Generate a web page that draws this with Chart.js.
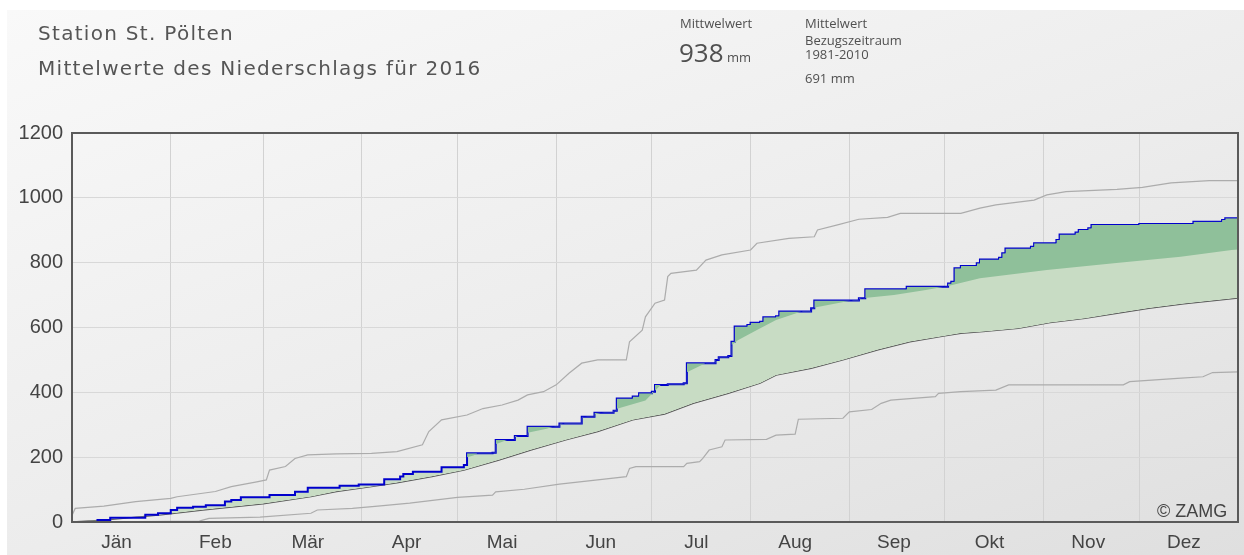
<!DOCTYPE html>
<html>
<head>
<meta charset="utf-8">
<script src="https://cdn.jsdelivr.net/npm/chart.js@4/dist/chart.umd.min.js"></script>
<style>
body { margin: 0; background: #fff; width: 1244px; height: 555px; overflow: hidden; position: relative; }
#panel { position: absolute; left: 7px; top: 10px; width: 1237px; height: 545px;
  background: linear-gradient(160deg, #f9f9f9 0%, #ececec 55%, #dfdfdf 100%); }
#chart { position: absolute; left: 0; top: 0; }
.t { position: absolute; color: #505050; font-family: "Open Sans", sans-serif; white-space: nowrap; line-height: 1; }
.titel { font-family: "DejaVu Sans", sans-serif; font-size: 20px; color: #555; letter-spacing: 1.3px; }
</style>
</head>
<body>
<div id="panel"></div>
<canvas id="chart" width="1244" height="555"></canvas>

<div class="t titel" style="left:38px; top:23px;">Station St. Pölten</div>
<div class="t titel" style="left:38px; top:58px;">Mittelwerte des Niederschlags für 2016</div>

<div class="t" style="left:680px; top:17px; font-size:13px;">Mittwelwert</div>
<div class="t" style="left:679px; top:39px; font-size:26px;">938<span style="font-size:13px;"> mm</span></div>
<div class="t" style="left:805px; top:17px; font-size:13px;">Mittelwert</div>
<div class="t" style="left:805px; top:34px; font-size:13px;">Bezugszeitraum</div>
<div class="t" style="left:805px; top:48px; font-size:13px;">1981-2010</div>
<div class="t" style="left:805px; top:72px; font-size:13px;">691 mm</div>

<div class="t" style="left:1157px; top:502px; font-size:18px; font-family:'Liberation Sans', Arial, sans-serif; color:#444;">© ZAMG</div>

<script>
// Monate (Schaltjahr 2016)
var monate = ["Jän", "Feb", "Mär", "Apr", "Mai", "Jun", "Jul", "Aug", "Sep", "Okt", "Nov", "Dez"];
var monatsTage = [31, 29, 31, 30, 31, 30, 31, 31, 30, 31, 30, 31];
var yTicks = [0, 200, 400, 600, 800, 1000, 1200];

// Summe 2016 [Tag, mm]
var summe2016 = [
    [0, 0], [8, 6], [12, 13], [23, 22], [27, 27], [31, 37], [33, 44], [38, 47], [42, 52],
    [48, 63], [50, 68], [53, 76], [62, 83], [70, 93], [74, 106], [84, 112], [90, 116],
    [98, 132], [103, 140], [104, 148], [107, 155], [116, 169], [123, 176], [124, 212],
    [132, 214], [133, 253], [139, 265], [143, 294], [153, 304], [160, 325], [164, 337],
    [170, 343], [171, 381], [176, 387], [178, 397], [182, 402], [183, 423], [187, 425],
    [192, 428], [193, 490], [202, 500], [203, 508], [206, 512], [207, 556], [208, 603],
    [212, 608], [213, 615], [216, 618], [217, 632], [221, 635], [222, 649], [232, 659],
    [233, 683], [247, 690], [249, 718], [262, 726], [275, 736], [276, 741], [277, 783],
    [279, 790], [284, 798], [285, 810], [291, 815], [292, 829], [293, 844], [301, 849],
    [302, 860], [309, 870], [310, 887], [315, 893], [316, 901], [319, 906], [320, 916],
    [335, 919], [352, 926], [361, 932], [362, 937], [366, 938]
];

// Mittel 1981-2010
var mittel = [
    [0, 0], [10, 6], [28, 22], [41, 37], [60, 56], [75, 78], [83, 94], [94, 109], [102, 121],
    [113, 140], [123, 160], [134, 191], [144, 222], [155, 253], [165, 279], [176, 315],
    [186, 333], [195, 366], [206, 397], [216, 428], [221, 453], [232, 474], [242, 500],
    [253, 531], [263, 556], [274, 574], [279, 582], [286, 587], [297, 597], [307, 615],
    [318, 628], [328, 644], [338, 659], [349, 673], [366, 691]
];

// oberer Rand des Normalbereichs
var normalOben = [
    [124, 200], [126, 205], [133, 240], [139, 262], [143, 275], [149, 288], [153, 300],
    [160, 322], [170, 346], [180, 375], [186, 435], [193, 462], [200, 495], [205, 530],
    [209, 561], [215, 592], [221, 623], [232, 659], [243, 680], [248, 690], [258, 700],
    [268, 716], [275, 728], [285, 752], [306, 777], [327, 798], [348, 818], [364, 839], [366, 841]
];

// Maximum
var maximum = [
    [0, 20], [1, 42], [10, 49], [20, 63], [31, 73], [33, 78], [45, 94], [50, 109], [58, 124],
    [61, 130], [62, 160], [67, 171], [70, 196], [74, 207], [83, 210], [94, 212], [102, 217],
    [110, 238], [112, 279], [116, 315], [124, 330], [129, 350], [135, 361], [140, 376],
    [143, 392], [148, 402], [152, 423], [156, 459], [160, 490], [165, 500], [174, 500],
    [175, 556], [179, 592], [180, 633], [183, 675], [186, 685], [187, 757], [188, 767],
    [196, 777], [199, 808], [204, 824], [213, 839], [215, 860], [225, 875], [233, 880],
    [234, 901], [240, 916], [247, 934], [256, 940], [260, 952], [279, 952], [285, 968],
    [290, 978], [302, 993], [306, 1009], [312, 1019], [328, 1026], [336, 1032], [345, 1046],
    [357, 1053], [366, 1053]
];

// Minimum
var minimum = [
    [0, 0], [40, 3], [41, 6], [43, 11], [59, 15], [60, 16], [75, 27], [77, 37], [88, 42],
    [96, 49], [106, 58], [121, 76], [132, 83], [133, 93], [142, 101], [153, 117], [165, 130],
    [174, 140], [175, 165], [177, 171], [192, 171], [193, 181], [197, 186], [198, 196],
    [200, 222], [204, 232], [205, 253], [218, 255], [221, 268], [227, 271], [228, 317],
    [242, 320], [244, 340], [251, 347], [254, 366], [257, 376], [271, 387], [272, 397],
    [279, 402], [290, 407], [294, 423], [330, 423], [332, 433], [347, 443], [355, 448],
    [358, 461], [366, 463]
];

function punkte(liste) {
    return liste.map(function (p) { return { x: p[0], y: p[1] }; });
}

// Gitterlinien am Monatsanfang, Beschriftung am 15.
var monatsAnfang = [0];
var beschriftung = [];
for (var i = 0; i < monatsTage.length; i++) {
    beschriftung.push(monatsAnfang[i] + 14);
    monatsAnfang.push(monatsAnfang[i] + monatsTage[i]);
}

var hellGruen = "rgba(200, 220, 196, 1)";
var dunkelGruen = "rgba(143, 192, 154, 1)";

var rahmen = {
    id: "rahmen",
    afterDatasetsDraw: function (chart) {
        var a = chart.chartArea;
        var ctx = chart.ctx;
        ctx.save();
        ctx.strokeStyle = "#5a5a5a";
        ctx.lineWidth = 2;
        ctx.strokeRect(a.left, a.top, a.right - a.left, a.bottom - a.top);
        ctx.restore();
    }
};

var ctx = document.getElementById("chart").getContext("2d");

new Chart(ctx, {
    type: "line",
    data: {
        datasets: [{
            label: "Normalbereich",
            data: punkte(normalOben),
            borderWidth: 0,
            pointRadius: 0,
            fill: { target: 1, above: "rgba(0,0,0,0)", below: dunkelGruen }
        }, {
            label: "2016",
            data: punkte(summe2016),
            stepped: true,
            borderColor: "#0000cc",
            borderWidth: 2,
            pointRadius: 0,
            fill: { target: 2, above: hellGruen, below: "rgba(0,0,0,0)" }
        }, {
            label: "Mittel 1981-2010",
            data: punkte(mittel),
            borderColor: "#585858",
            borderWidth: 1.3,
            pointRadius: 0,
            fill: false
        }, {
            label: "Maximum",
            data: punkte(maximum),
            borderColor: "#acacac",
            borderWidth: 1.2,
            pointRadius: 0,
            fill: false
        }, {
            label: "Minimum",
            data: punkte(minimum),
            borderColor: "#acacac",
            borderWidth: 1.2,
            pointRadius: 0,
            fill: false
        }]
    },
    options: {
        responsive: false,
        animation: false,
        layout: { padding: { top: 133, right: 6, left: 0, bottom: 0 } },
        plugins: {
            legend: { display: false },
            tooltip: { enabled: false }
        },
        scales: {
            x: {
                type: "linear",
                min: 0,
                max: 366,
                position: "bottom",
                grid: { display: false },
                border: { display: false },
                afterBuildTicks: function (axis) {
                    axis.ticks = beschriftung.map(function (v) { return { value: v }; });
                },
                afterFit: function (axis) { axis.height = 33; },
                ticks: {
                    autoSkip: false,
                    maxRotation: 0,
                    padding: 1,
                    color: "#444",
                    font: { family: "'Liberation Sans', Arial, sans-serif", size: 19 },
                    callback: function (v, idx) { return monate[idx]; }
                }
            },
            xGitter: {
                type: "linear",
                min: 0,
                max: 366,
                position: "bottom",
                border: { display: false },
                grid: { color: "#d2d2d2", drawTicks: false },
                ticks: { display: false },
                afterBuildTicks: function (axis) {
                    axis.ticks = monatsAnfang.map(function (v) { return { value: v }; });
                },
                afterFit: function (axis) { axis.height = 0; }
            },
            y: {
                min: 0,
                max: 1200,
                border: { display: false },
                grid: { color: "#d8d8d8", drawTicks: false },
                afterBuildTicks: function (axis) {
                    axis.ticks = yTicks.map(function (v) { return { value: v }; });
                },
                afterFit: function (axis) { axis.width = 72; },
                ticks: {
                    padding: 9,
                    color: "#444",
                    font: { family: "'Liberation Sans', Arial, sans-serif", size: 20 },
                    callback: function (v) { return String(v); }
                }
            }
        }
    },
    plugins: [rahmen]
});
</script>
</body>
</html>
